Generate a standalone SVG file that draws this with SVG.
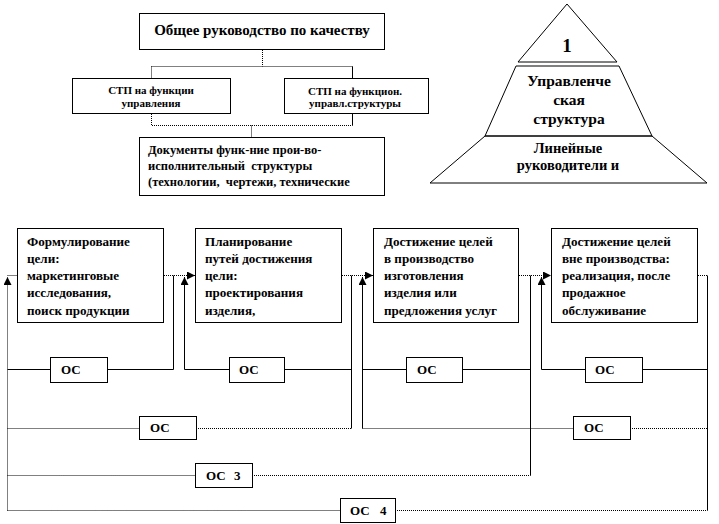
<svg xmlns="http://www.w3.org/2000/svg" width="719" height="524" viewBox="0 0 719 524">
<style>
  .box{fill:#fff;stroke:#000;stroke-width:1}
  .t{font-family:"Liberation Serif","DejaVu Serif","Times New Roman",serif;font-weight:bold;fill:#000}
  .c{text-anchor:middle}
  .s{stroke:#000;stroke-width:1;fill:none}
  .d{stroke:#000;stroke-width:1;fill:none;stroke-dasharray:1 1}
  .f13{font-size:13px}
  .fb{font-size:13.1px}
  .f14{font-size:14.5px}
  .f15{font-size:15px}
  .f11{font-size:11px}
  .f12{font-size:12.5px}
</style>
<defs>
  <marker id="ah" markerUnits="userSpaceOnUse" markerWidth="9" markerHeight="8" refX="8" refY="4" orient="auto">
    <path d="M0,0 L8,4 L0,8 Z" fill="#000"/>
  </marker>
</defs>
<rect width="719" height="524" fill="#fff"/>

<g id="node-top">
  <rect class="box" x="139.5" y="13.5" width="245" height="36"/>
  <text class="t c f15" x="262" y="35">Общее руководство по качеству</text>
</g>
<g id="node-stp-left">
  <rect class="box" x="72.5" y="78.5" width="158" height="35"/>
  <text class="t c f11" x="151" y="94">СТП на функции</text>
  <text class="t c f11" x="151" y="107">управления</text>
</g>
<g id="node-stp-right">
  <rect class="box" x="284.5" y="78.5" width="144" height="35"/>
  <text class="t c f11" x="355" y="95">СТП на функцион.</text>
  <text class="t c f11" x="355" y="107">управл.структуры</text>
</g>
<g id="node-docs">
  <rect class="box" x="139.5" y="137.5" width="245" height="58"/>
  <text class="t f12" x="148" y="154">Документы функ-ние прои-во-</text>
  <text class="t f12" x="148" y="170" xml:space="preserve">исполнительный  структуры</text>
  <text class="t f12" x="148" y="186" xml:space="preserve">(технологии,  чертежи, технические</text>
</g>

<g id="node-pyramid">
  <polygon class="s" points="567,4 518,62 617,62"/>
  <polygon class="s" points="516,66 619,66 652,136 485,136"/>
  <polygon class="s" points="485,136 652,136 707,183 430,183"/>
  <text class="t c" x="567" y="52" style="font-size:19px">1</text>
  <text class="t c" x="569" y="86" style="font-size:15.5px">Управленче</text>
  <text class="t c" x="569" y="105" style="font-size:15.5px">ская</text>
  <text class="t c" x="569" y="124" style="font-size:15.5px">структура</text>
  <text class="t c f14" x="568" y="153">Линейные</text>
  <text class="t c f14" x="568" y="170">руководители и</text>
</g>

<g id="node-b1">
  <rect class="box" x="17.5" y="228.5" width="146" height="94"/>
  <text class="t fb" x="27" y="246">Формулирование</text>
  <text class="t fb" x="27" y="263">цели:</text>
  <text class="t fb" x="27" y="280">маркетинговые</text>
  <text class="t fb" x="27" y="297">исследования,</text>
  <text class="t fb" x="27" y="315">поиск продукции</text>
</g>
<g id="node-b2">
  <rect class="box" x="195.5" y="228.5" width="146" height="94"/>
  <text class="t fb" x="205" y="246">Планирование</text>
  <text class="t fb" x="205" y="263">путей достижения</text>
  <text class="t fb" x="205" y="280">цели:</text>
  <text class="t fb" x="205" y="297">проектирования</text>
  <text class="t fb" x="205" y="315">изделия,</text>
</g>
<g id="node-b3">
  <rect class="box" x="373.5" y="228.5" width="145" height="94"/>
  <text class="t fb" x="384" y="246">Достижение целей</text>
  <text class="t fb" x="384" y="263">в производство</text>
  <text class="t fb" x="384" y="280">изготовления</text>
  <text class="t fb" x="384" y="297">изделия или</text>
  <text class="t fb" x="384" y="315">предложения  услуг</text>
</g>
<g id="node-b4">
  <rect class="box" x="551.5" y="228.5" width="146" height="94"/>
  <text class="t fb" x="562" y="246">Достижение целей</text>
  <text class="t fb" x="562" y="263">вне производства:</text>
  <text class="t fb" x="562" y="280">реализация, после</text>
  <text class="t fb" x="562" y="297">продажное</text>
  <text class="t fb" x="562" y="315">обслуживание</text>
</g>

<g id="connectors">
  <path class="d" d="M262.5,50 V66.5 M151.5,66.5 H352.5 M151.5,66.5 V78"/>
  <path class="s" d="M352.5,66.5 V78 M352.5,114 V125.5"/>
  <path class="d" d="M151.5,114 V125.5 H352.5 M251.5,125.5 V137"/>
  <path class="d" d="M164,275.5 H195" marker-end="url(#ah)"/>
  <path class="d" d="M342,275.5 H373" marker-end="url(#ah)"/>
  <path class="d" d="M519,275.5 H551" marker-end="url(#ah)"/>
  <path class="d" d="M698,275.5 H707.5"/>
  <path class="d" d="M7.5,275.5 H17"/>
  <path class="d" d="M7.5,510.5 V277" marker-end="url(#ah)"/>
  <path class="s" d="M173.5,275.5 V369.5 M351.5,275.5 V428.5 M530.5,275.5 V475.5 M707.5,275.5 V510.5"/>
  <path class="s" d="M184.5,369.5 V277" marker-end="url(#ah)"/>
  <path class="s" d="M362.5,428.5 V277" marker-end="url(#ah)"/>
  <path class="s" d="M541.5,369.5 V277" marker-end="url(#ah)"/>
  <path class="s" d="M7.5,369.5 H50 M107,369.5 H173.5 M184.5,369.5 H229 M284,369.5 H351.5 M362.5,369.5 H406 M462,369.5 H530.5 M541.5,369.5 H585 M642,369.5 H707.5"/>
  <path class="d" d="M7.5,428.5 H139 M196,428.5 H351.5 M362.5,428.5 H573 M630,428.5 H707.5"/>
  <path class="d" d="M7.5,475.5 H195 M252,475.5 H530.5"/>
  <path class="d" d="M7.5,510.5 H340 M395,510.5 H707.5"/>
</g>

<g id="node-os1">
  <rect class="box" x="50.5" y="357.5" width="57" height="25"/>
  <text class="t f13" x="61" y="374">ОС</text>
</g>
<g id="node-os2">
  <rect class="box" x="229.5" y="357.5" width="55" height="25"/>
  <text class="t f13" x="239" y="374">ОС</text>
</g>
<g id="node-os3">
  <rect class="box" x="406.5" y="357.5" width="56" height="25"/>
  <text class="t f13" x="417" y="374">ОС</text>
</g>
<g id="node-os4">
  <rect class="box" x="585.5" y="357.5" width="57" height="25"/>
  <text class="t f13" x="595" y="374">ОС</text>
</g>
<g id="node-os5">
  <rect class="box" x="139.5" y="416.5" width="57" height="23"/>
  <text class="t f13" x="150" y="432">ОС</text>
</g>
<g id="node-os6">
  <rect class="box" x="573.5" y="416.5" width="57" height="23"/>
  <text class="t f13" x="584" y="432">ОС</text>
</g>
<g id="node-os-3">
  <rect class="box" x="195.5" y="463.5" width="57" height="24"/>
  <text class="t f13" x="206" y="480">ОС</text>
  <text class="t f13" x="234" y="480">3</text>
</g>
<g id="node-os-4">
  <rect class="box" x="340.5" y="498.5" width="55" height="24"/>
  <text class="t f13" x="350" y="515">ОС</text>
  <text class="t f13" x="380" y="515">4</text>
</g>
</svg>
